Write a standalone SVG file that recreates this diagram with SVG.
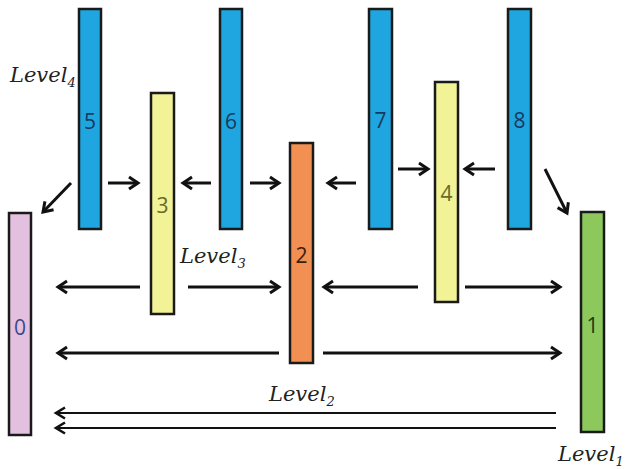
<svg xmlns="http://www.w3.org/2000/svg" width="627" height="469" viewBox="0 0 627 469">
<style>
.n{stroke:#1a1a1a;stroke-width:2.5}
.blue{fill:#1fa6e0}.yel{fill:#f2f297}.org{fill:#f19052}.pink{fill:#e4c0e0}.grn{fill:#8cc85c}
.num{font-family:"Open Sans","Liberation Sans",sans-serif;font-size:21px;text-anchor:middle;dominant-baseline:central}
.lv{font-family:"DejaVu Serif","Liberation Serif",serif;font-style:italic;font-size:21px;fill:#222}
.sub{font-size:13px}
.c{stroke:#111;fill:none;stroke-width:3}
.t{stroke:#111;fill:none;stroke-width:2}
</style>
<defs>
<marker id="ah" markerUnits="userSpaceOnUse" markerWidth="16" markerHeight="16" refX="12" refY="8" orient="auto">
<path d="M3,2 L12,8 L3,14" fill="none" stroke="#111" stroke-width="3" stroke-linejoin="miter"/>
</marker>
<marker id="aht" markerUnits="userSpaceOnUse" markerWidth="16" markerHeight="16" refX="12" refY="8" orient="auto">
<path d="M3,2.5 L12,8 L3,13.5" fill="none" stroke="#111" stroke-width="2.6"/>
</marker>
</defs>
<g id="node-0"><rect class="n pink" x="9" y="213" width="22" height="222"/><text class="num" x="20" y="327" fill="#3a4a86">0</text></g>
<g id="node-1"><rect class="n grn" x="581" y="212" width="23" height="220"/><text class="num" x="592.5" y="325" fill="#1f3a14">1</text></g>
<g id="node-2"><rect class="n org" x="290" y="143" width="23" height="220"/><text class="num" x="301.5" y="255" fill="#3a2010">2</text></g>
<g id="node-3"><rect class="n yel" x="151" y="93" width="23" height="221"/><text class="num" x="162.5" y="205" fill="#6a6a2a">3</text></g>
<g id="node-4"><rect class="n yel" x="435" y="82" width="23" height="220"/><text class="num" x="446.5" y="193" fill="#6a6a2a">4</text></g>
<g id="node-5"><rect class="n blue" x="79" y="9" width="22" height="220"/><text class="num" x="90" y="121" fill="#163a5e">5</text></g>
<g id="node-6"><rect class="n blue" x="220" y="9" width="22" height="220"/><text class="num" x="231" y="121" fill="#163a5e">6</text></g>
<g id="node-7"><rect class="n blue" x="369" y="9" width="23" height="220"/><text class="num" x="380.5" y="120" fill="#163a5e">7</text></g>
<g id="node-8"><rect class="n blue" x="508" y="9" width="23" height="220"/><text class="num" x="519.5" y="120" fill="#163a5e">8</text></g>
<g id="connectors">
<line class="c" x1="71" y1="183" x2="43" y2="212" marker-end="url(#ah)"/>
<line class="c" x1="108" y1="183" x2="138" y2="183" marker-end="url(#ah)"/>
<line class="c" x1="211" y1="183" x2="183" y2="183" marker-end="url(#ah)"/>
<line class="c" x1="250" y1="183" x2="279" y2="183" marker-end="url(#ah)"/>
<line class="c" x1="356" y1="183" x2="328" y2="183" marker-end="url(#ah)"/>
<line class="c" x1="398" y1="169" x2="428" y2="169" marker-end="url(#ah)"/>
<line class="c" x1="495" y1="169" x2="465" y2="169" marker-end="url(#ah)"/>
<line class="c" x1="545" y1="169" x2="567" y2="213" marker-end="url(#ah)"/>
<line class="c" x1="140" y1="287" x2="58" y2="287" marker-end="url(#ah)"/>
<line class="c" x1="188" y1="287" x2="279" y2="287" marker-end="url(#ah)"/>
<line class="c" x1="418" y1="287" x2="324" y2="287" marker-end="url(#ah)"/>
<line class="c" x1="465" y1="287" x2="560" y2="287" marker-end="url(#ah)"/>
<line class="c" x1="279" y1="353" x2="58" y2="353" marker-end="url(#ah)"/>
<line class="c" x1="323" y1="353" x2="560" y2="353" marker-end="url(#ah)"/>
<line class="t" x1="556" y1="413" x2="56" y2="413" marker-end="url(#aht)"/>
<line class="t" x1="556" y1="428" x2="56" y2="428" marker-end="url(#aht)"/>
</g>
<g id="labels">
<text class="lv" x="10" y="82">Level<tspan class="sub" dy="5">4</tspan></text>
<text class="lv" x="180" y="263">Level<tspan class="sub" dy="5">3</tspan></text>
<text class="lv" x="269" y="401">Level<tspan class="sub" dy="5">2</tspan></text>
<text class="lv" x="558" y="461">Level<tspan class="sub" dy="5">1</tspan></text>
</g>
</svg>
